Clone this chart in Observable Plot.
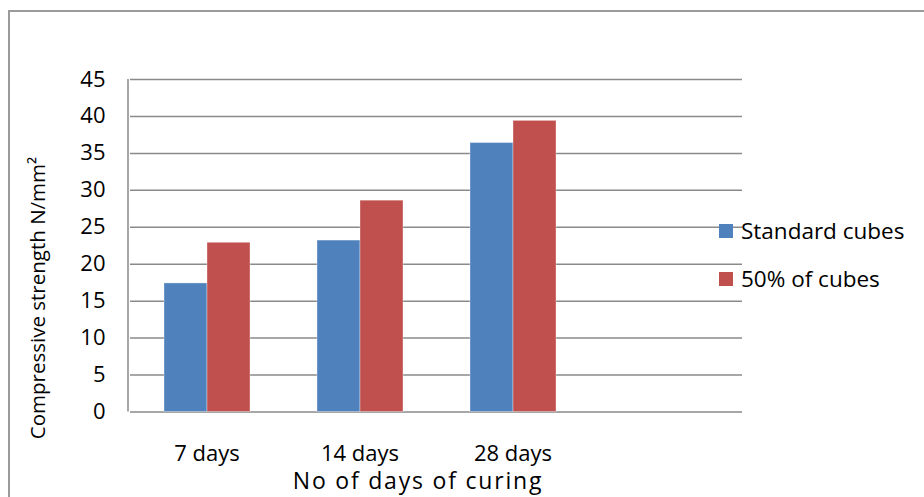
<!DOCTYPE html>
<html>
<head>
<meta charset="utf-8">
<script src="https://cdn.jsdelivr.net/npm/d3@7"></script>
<script src="https://cdn.jsdelivr.net/npm/@observablehq/plot@0.6"></script>
<style>
  body { margin: 0; background: #fff; overflow: hidden; }
  #chart { position: relative; width: 924px; height: 497px; overflow: hidden; font-family: "Open Sans", sans-serif; color: #000; }
  #chart svg { position: absolute; left: 0; top: 0; }
  .border { position: absolute; left: 8px; top: 10px; width: 1200px; height: 1200px; border: 2px solid #9a9a9a; pointer-events: none; }
  .ytitle { position: absolute; left: 37px; top: 298px; transform: translate(-50%, -50%) rotate(-90deg); white-space: nowrap; font-size: 20.5px; line-height: 1; }
  .xtitle { position: absolute; left: 418px; top: 469px; transform: translateX(-50%); white-space: nowrap; font-size: 23px; letter-spacing: 1.8px; line-height: 1; }
  .legend { position: absolute; left: 719px; top: 217px; font-size: 22.5px; line-height: 28px; }
  .legend .item { display: flex; align-items: center; height: 28px; margin-bottom: 20px; white-space: nowrap; }
  .legend .sw { width: 14px; height: 14px; margin-right: 8px; flex: none; }
</style>
</head>
<body>
<div id="chart"></div>
<script>
// Compressive strength of cubes by curing age
const categories = ["7 days", "14 days", "28 days"];
const series = ["Standard cubes", "50% of cubes"];
const standardCubes = [17.4, 23.2, 36.4];
const halfCubes = [22.9, 28.6, 39.4];
const seriesColors = ["#4F81BD", "#C0504D"];
const yTicks = [0, 5, 10, 15, 20, 25, 30, 35, 40, 45];
const yTitle = "Compressive strength N/mm²";
const xTitle = "No of days of curing";

// one spare category slot on the right keeps the plot area wide
const slots = [...categories, "spare"];

const rows = categories.flatMap((c, i) => [
  {category: c, series: series[0], value: standardCubes[i]},
  {category: c, series: series[1], value: halfCubes[i]}
]);
const gridRows = slots.flatMap(s => yTicks.map(v => ({slot: s, v})));

const marginLeft = 128, marginRight = 181, marginTop = 79, height = 497, marginBottom = 85.5;

const chart = Plot.plot({
  width: 924,
  height,
  marginLeft, marginRight, marginTop, marginBottom,
  style: {fontFamily: "Open Sans, sans-serif", fontSize: "22px", color: "#000", background: "transparent", overflow: "visible"},
  fx: {domain: slots, padding: 0, axis: "bottom", label: null, tickSize: 0, tickPadding: 33,
       tickFormat: d => categories.includes(d) ? d : ""},
  x: {domain: series, paddingInner: 0, paddingOuter: 0.745, axis: null},
  y: {domain: [0, 45], ticks: yTicks, tickSize: 0, tickPadding: 25, label: null},
  color: {domain: series, range: seriesColors},
  marks: [
    Plot.ruleY(gridRows, {fx: "slot", y: "v", stroke: "#8a8a8a", strokeWidth: 1.5}),
    Plot.barY(rows, {fx: "category", x: "series", y: "value", fill: "series", stroke: "#ffffff", strokeOpacity: 0.35, strokeWidth: 1})
  ]
});

const root = document.getElementById("chart");
root.appendChild(chart);

// left edge of the plot area
const ys = chart.scale("y");
d3.select(chart).append("line")
  .attr("x1", marginLeft).attr("x2", marginLeft)
  .attr("y1", ys.apply(yTicks[yTicks.length - 1])).attr("y2", ys.apply(0))
  .attr("stroke", "#8a8a8a").attr("stroke-width", 1.5);

const yt = document.createElement("div");
yt.className = "ytitle"; yt.textContent = yTitle;
root.appendChild(yt);

const xt = document.createElement("div");
xt.className = "xtitle"; xt.textContent = xTitle;
root.appendChild(xt);

const legend = document.createElement("div");
legend.className = "legend";
series.forEach((s, i) => {
  const item = document.createElement("div");
  item.className = "item";
  const sw = document.createElement("span");
  sw.className = "sw"; sw.style.background = seriesColors[i];
  const label = document.createElement("span");
  label.textContent = s;
  item.appendChild(sw); item.appendChild(label);
  legend.appendChild(item);
});
root.appendChild(legend);

const border = document.createElement("div");
border.className = "border";
root.appendChild(border);
</script>
</body>
</html>
